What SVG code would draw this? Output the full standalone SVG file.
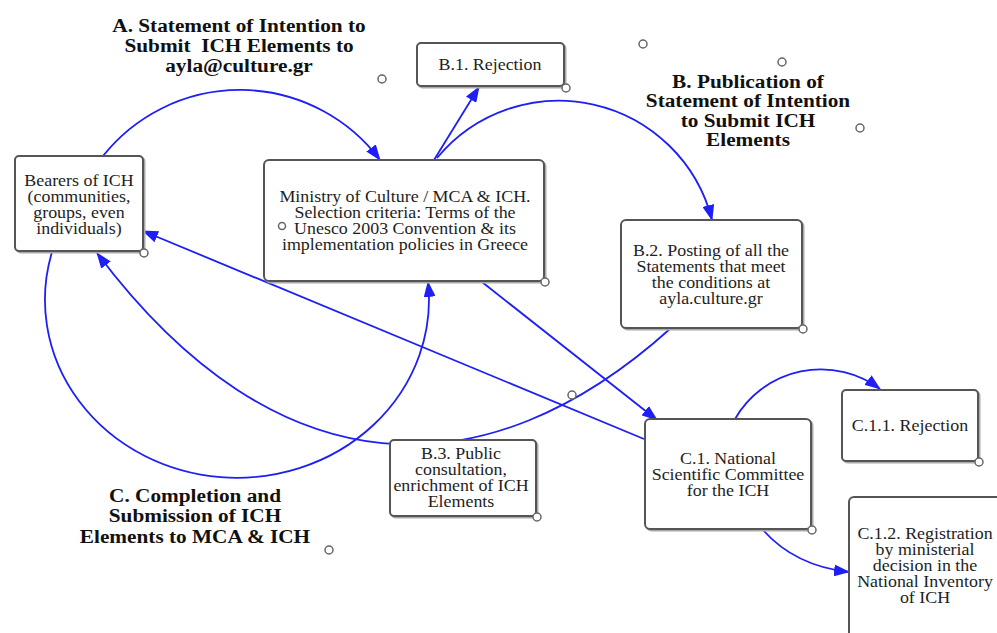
<svg xmlns="http://www.w3.org/2000/svg" width="997" height="633" viewBox="0 0 997 633">
<defs>
<style>
.box{fill:#fff;stroke:#555;stroke-width:2}
.shadow{fill:none;stroke:#aaa;stroke-width:2}
.t{font-family:"Liberation Serif","Times New Roman",serif;font-size:16px;fill:#1e1e1e;text-anchor:middle}
.h{font-family:"Liberation Serif","Times New Roman",serif;font-size:19px;font-weight:bold;fill:#111;text-anchor:middle}
.c{fill:#fff;stroke:#666;stroke-width:1.5}
.e{fill:none;stroke:#1f1ff5;stroke-width:1.8}
</style>
<marker id="arr" markerUnits="userSpaceOnUse" markerWidth="16" markerHeight="12" viewBox="0 0 16 12" refX="15" refY="6" orient="auto">
<path d="M0,0 L16,6 L0,12 z" fill="#1f1ff5"/>
</marker>
</defs>
<rect width="997" height="633" fill="#fff"/>

<g id="connectors">
<path class="e" d="M103,156 A175,175 0 0 1 380,160" marker-end="url(#arr)"/>
<path class="e" d="M434,160 L479,87" marker-end="url(#arr)"/>
<path class="e" d="M437,158 A158,158 0 0 1 712,220" marker-end="url(#arr)"/>
<path class="e" d="M482,282 L657,420" marker-end="url(#arr)"/>
<path class="e" d="M644,439 L143,231" marker-end="url(#arr)"/>
<path class="e" d="M671,328 C 486,495 277,493 97,253" marker-end="url(#arr)"/>
<path class="e" d="M52,252 A192,178 0 1 0 428,282" marker-end="url(#arr)"/>
<path class="e" d="M735,419 A99,99 0 0 1 880,389" marker-end="url(#arr)"/>
<path class="e" d="M763,530 Q795,566 849,572" marker-end="url(#arr)"/>
</g>

<g id="heading-a">
<text class="h" transform="translate(239,0) scale(1.12,1)" xml:space="preserve"><tspan x="0" y="32">A. Statement of Intention to</tspan><tspan x="0" y="52">Submit  ICH Elements to</tspan><tspan x="0" y="72">ayla@culture.gr</tspan></text>
</g>
<g id="heading-b">
<text class="h" transform="translate(748,0) scale(1.12,1)"><tspan x="0" y="88">B. Publication of</tspan><tspan x="0" y="107.5">Statement of Intention</tspan><tspan x="0" y="127">to Submit ICH</tspan><tspan x="0" y="146.5">Elements</tspan></text>
</g>
<g id="heading-c">
<text class="h" transform="translate(195,0) scale(1.12,1)"><tspan x="0" y="502">C. Completion and</tspan><tspan x="0" y="522.5">Submission of ICH</tspan><tspan x="0" y="543">Elements to MCA &amp; ICH</tspan></text>
</g>

<g id="bearers">
<rect class="shadow" x="16.5" y="157.5" width="128" height="95" rx="4"/>
<rect class="box" x="15" y="156" width="128" height="95" rx="4"/>
<text class="t" transform="translate(79,0) scale(1.12,1)"><tspan x="0" y="186">Bearers of ICH</tspan><tspan x="0" y="202">(communities,</tspan><tspan x="0" y="218">groups, even</tspan><tspan x="0" y="234">individuals)</tspan></text>
<circle class="c" cx="144" cy="253" r="4"/>
</g>

<g id="ministry">
<rect class="shadow" x="265.5" y="161.5" width="280" height="121" rx="5"/>
<rect class="box" x="264" y="160" width="280" height="121" rx="5"/>
<text class="t" transform="translate(405,0) scale(1.12,1)"><tspan x="0" y="202">Ministry of Culture / MCA &amp; ICH.</tspan><tspan x="0" y="218">Selection criteria: Terms of the</tspan><tspan x="0" y="234">Unesco 2003 Convention &amp; its</tspan><tspan x="0" y="250">implementation policies in Greece</tspan></text>
<circle class="c" cx="282" cy="226" r="3.5"/>
<circle class="c" cx="545" cy="282" r="4"/>
</g>

<g id="b1">
<rect class="shadow" x="418.5" y="44.5" width="147" height="43" rx="4"/>
<rect class="box" x="417" y="43" width="147" height="43" rx="4"/>
<text class="t" transform="translate(490,0) scale(1.12,1)"><tspan x="0" y="70">B.1. Rejection</tspan></text>
<circle class="c" cx="566" cy="88" r="4"/>
</g>

<g id="b2">
<rect class="shadow" x="622.5" y="221.5" width="181" height="108" rx="5"/>
<rect class="box" x="621" y="220" width="181" height="108" rx="5"/>
<text class="t" transform="translate(711,0) scale(1.12,1)"><tspan x="0" y="256">B.2. Posting of all the</tspan><tspan x="0" y="272">Statements that meet</tspan><tspan x="0" y="288">the conditions at</tspan><tspan x="0" y="304">ayla.culture.gr</tspan></text>
<circle class="c" cx="803" cy="329" r="4"/>
</g>

<g id="b3">
<rect class="shadow" x="391.5" y="441.5" width="146" height="76" rx="4"/>
<rect class="box" x="390" y="440" width="146" height="76" rx="4"/>
<text class="t" transform="translate(461,0) scale(1.12,1)"><tspan x="0" y="459">B.3. Public</tspan><tspan x="0" y="475">consultation,</tspan><tspan x="0" y="491">enrichment of ICH</tspan><tspan x="0" y="507">Elements</tspan></text>
<circle class="c" cx="537" cy="517" r="4"/>
</g>

<g id="c1">
<rect class="shadow" x="646.5" y="420.5" width="166" height="110" rx="5"/>
<rect class="box" x="645" y="419" width="166" height="110" rx="5"/>
<text class="t" transform="translate(728,0) scale(1.12,1)"><tspan x="0" y="464">C.1. National</tspan><tspan x="0" y="480">Scientific Committee</tspan><tspan x="0" y="496">for the ICH</tspan></text>
<circle class="c" cx="812" cy="530" r="4"/>
</g>

<g id="c11">
<rect class="shadow" x="843.5" y="391.5" width="136" height="71" rx="4"/>
<rect class="box" x="842" y="390" width="136" height="71" rx="4"/>
<text class="t" transform="translate(910,0) scale(1.12,1)"><tspan x="0" y="431">C.1.1. Rejection</tspan></text>
<circle class="c" cx="979" cy="462" r="4"/>
</g>

<g id="c12">
<rect class="shadow" x="850.5" y="498.5" width="160" height="160" rx="5"/>
<rect class="box" x="849" y="497" width="160" height="160" rx="5"/>
<text class="t" transform="translate(925,0) scale(1.12,1)"><tspan x="0" y="539">C.1.2. Registration</tspan><tspan x="0" y="555">by ministerial</tspan><tspan x="0" y="571">decision in the</tspan><tspan x="0" y="587">National Inventory</tspan><tspan x="0" y="603">of ICH</tspan></text>
</g>

<g id="markers">
<circle class="c" cx="382" cy="79" r="4"/>
<circle class="c" cx="643" cy="44" r="4"/>
<circle class="c" cx="782" cy="62" r="4"/>
<circle class="c" cx="860" cy="128" r="4"/>
<circle class="c" cx="572" cy="395" r="4"/>
<circle class="c" cx="329" cy="550" r="4"/>
</g>
</svg>
